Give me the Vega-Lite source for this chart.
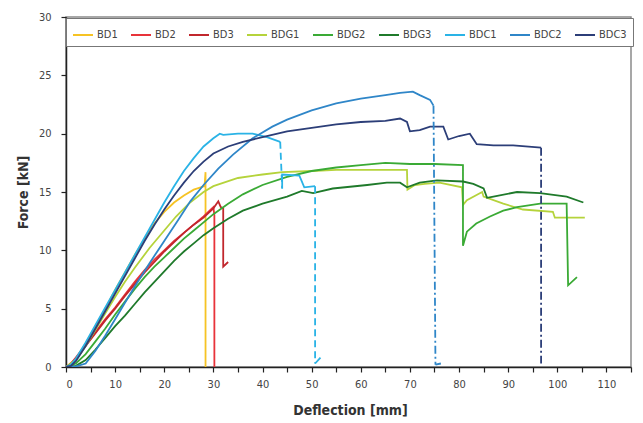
{
  "$schema": "https://vega.github.io/schema/vega-lite/v6.json",
  "width": 565,
  "height": 350,
  "autosize": {"type": "none"},
  "padding": {"left": 66, "top": 17, "right": 12, "bottom": 56},
  "background": "white",
  "config": {
    "view": {"stroke": "#8a8a8a", "strokeWidth": 1.5},
    "font": "DejaVu Sans Condensed",
    "axis": {"grid": false, "domainColor": "#222", "domainWidth": 1.5, "tickColor": "#222", "tickWidth": 1.2, "tickSize": 5, "labelFont": "DejaVu Sans Condensed", "labelFontSize": 11, "labelColor": "#444", "titleFont": "DejaVu Sans Condensed", "titleFontSize": 14, "titleFontWeight": "bold", "titleColor": "#333"}
  },
  "data": {"values": [
    {"s":"BD1","x":0,"y":0,"p":"a"},{"s":"BD1","x":2,"y":0.7,"p":"a"},{"s":"BD1","x":4,"y":2.0,"p":"a"},{"s":"BD1","x":6,"y":3.5,"p":"a"},{"s":"BD1","x":8,"y":5.0,"p":"a"},{"s":"BD1","x":10,"y":6.6,"p":"a"},{"s":"BD1","x":12,"y":8.1,"p":"a"},{"s":"BD1","x":14,"y":9.6,"p":"a"},{"s":"BD1","x":16,"y":11.0,"p":"a"},{"s":"BD1","x":18,"y":12.3,"p":"a"},{"s":"BD1","x":20,"y":13.3,"p":"a"},{"s":"BD1","x":22,"y":14.1,"p":"a"},{"s":"BD1","x":24,"y":14.7,"p":"a"},{"s":"BD1","x":26,"y":15.2,"p":"a"},{"s":"BD1","x":28.2,"y":15.5,"p":"a"},{"s":"BD1","x":28.4,"y":16.7,"p":"a"},{"s":"BD1","x":28.4,"y":0,"p":"a"},

    {"s":"BD2","x":0,"y":0,"p":"a"},{"s":"BD2","x":1,"y":0.3,"p":"a"},{"s":"BD2","x":2,"y":0.8,"p":"a"},{"s":"BD2","x":4,"y":1.9,"p":"a"},{"s":"BD2","x":6,"y":3.0,"p":"a"},{"s":"BD2","x":8,"y":4.1,"p":"a"},{"s":"BD2","x":10,"y":5.1,"p":"a"},{"s":"BD2","x":12,"y":6.2,"p":"a"},{"s":"BD2","x":14,"y":7.3,"p":"a"},{"s":"BD2","x":16,"y":8.3,"p":"a"},{"s":"BD2","x":18,"y":9.2,"p":"a"},{"s":"BD2","x":20,"y":10.0,"p":"a"},{"s":"BD2","x":22,"y":10.8,"p":"a"},{"s":"BD2","x":24,"y":11.5,"p":"a"},{"s":"BD2","x":26,"y":12.2,"p":"a"},{"s":"BD2","x":28,"y":12.9,"p":"a"},{"s":"BD2","x":29.5,"y":13.5,"p":"a"},{"s":"BD2","x":30,"y":13.7,"p":"a"},{"s":"BD2","x":30.2,"y":13.0,"p":"a"},{"s":"BD2","x":30.2,"y":0,"p":"a"},

    {"s":"BD3","x":0,"y":0,"p":"a"},{"s":"BD3","x":1,"y":0.2,"p":"a"},{"s":"BD3","x":2,"y":0.7,"p":"a"},{"s":"BD3","x":4,"y":1.8,"p":"a"},{"s":"BD3","x":6,"y":2.9,"p":"a"},{"s":"BD3","x":8,"y":4.0,"p":"a"},{"s":"BD3","x":10,"y":5.0,"p":"a"},{"s":"BD3","x":12,"y":6.1,"p":"a"},{"s":"BD3","x":14,"y":7.1,"p":"a"},{"s":"BD3","x":16,"y":8.1,"p":"a"},{"s":"BD3","x":18,"y":9.0,"p":"a"},{"s":"BD3","x":20,"y":9.9,"p":"a"},{"s":"BD3","x":22,"y":10.7,"p":"a"},{"s":"BD3","x":24,"y":11.5,"p":"a"},{"s":"BD3","x":26,"y":12.2,"p":"a"},{"s":"BD3","x":28,"y":12.8,"p":"a"},{"s":"BD3","x":30,"y":13.6,"p":"a"},{"s":"BD3","x":31,"y":14.2,"p":"a"},{"s":"BD3","x":31.5,"y":13.7,"p":"a"},{"s":"BD3","x":32,"y":13.6,"p":"a"},{"s":"BD3","x":32,"y":8.6,"p":"a"},{"s":"BD3","x":33,"y":9.0,"p":"a"},

    {"s":"BDG1","x":0,"y":0,"p":"a"},{"s":"BDG1","x":2,"y":0.6,"p":"a"},{"s":"BDG1","x":4,"y":1.8,"p":"a"},{"s":"BDG1","x":6,"y":3.2,"p":"a"},{"s":"BDG1","x":8,"y":4.6,"p":"a"},{"s":"BDG1","x":10,"y":6.0,"p":"a"},{"s":"BDG1","x":12,"y":7.3,"p":"a"},{"s":"BDG1","x":14,"y":8.5,"p":"a"},{"s":"BDG1","x":17,"y":10.2,"p":"a"},{"s":"BDG1","x":20,"y":11.7,"p":"a"},{"s":"BDG1","x":22.4,"y":12.9,"p":"a"},{"s":"BDG1","x":25,"y":14.0,"p":"a"},{"s":"BDG1","x":28,"y":15.0,"p":"a"},{"s":"BDG1","x":30,"y":15.5,"p":"a"},{"s":"BDG1","x":35,"y":16.2,"p":"a"},{"s":"BDG1","x":40,"y":16.5,"p":"a"},{"s":"BDG1","x":44,"y":16.7,"p":"a"},{"s":"BDG1","x":50,"y":16.8,"p":"a"},{"s":"BDG1","x":55,"y":16.9,"p":"a"},{"s":"BDG1","x":60,"y":16.9,"p":"a"},{"s":"BDG1","x":65,"y":16.9,"p":"a"},{"s":"BDG1","x":69.4,"y":16.9,"p":"a"},{"s":"BDG1","x":69.5,"y":15.2,"p":"a"},{"s":"BDG1","x":71,"y":15.6,"p":"a"},{"s":"BDG1","x":73,"y":15.7,"p":"a"},{"s":"BDG1","x":76,"y":15.8,"p":"a"},{"s":"BDG1","x":80.6,"y":15.4,"p":"a"},{"s":"BDG1","x":80.8,"y":13.9,"p":"a"},{"s":"BDG1","x":81.6,"y":14.3,"p":"a"},{"s":"BDG1","x":84.7,"y":15.0,"p":"a"},{"s":"BDG1","x":85,"y":14.6,"p":"a"},{"s":"BDG1","x":89,"y":14.0,"p":"a"},{"s":"BDG1","x":93,"y":13.5,"p":"a"},{"s":"BDG1","x":99.1,"y":13.3,"p":"a"},{"s":"BDG1","x":99.5,"y":12.8,"p":"a"},{"s":"BDG1","x":105.6,"y":12.8,"p":"a"},

    {"s":"BDG2","x":0,"y":0,"p":"a"},{"s":"BDG2","x":2,"y":0.3,"p":"a"},{"s":"BDG2","x":4,"y":1.1,"p":"a"},{"s":"BDG2","x":6,"y":2.2,"p":"a"},{"s":"BDG2","x":8,"y":3.3,"p":"a"},{"s":"BDG2","x":10,"y":4.5,"p":"a"},{"s":"BDG2","x":12,"y":5.6,"p":"a"},{"s":"BDG2","x":14,"y":6.7,"p":"a"},{"s":"BDG2","x":16,"y":7.7,"p":"a"},{"s":"BDG2","x":18,"y":8.6,"p":"a"},{"s":"BDG2","x":20,"y":9.4,"p":"a"},{"s":"BDG2","x":22,"y":10.2,"p":"a"},{"s":"BDG2","x":24,"y":11.0,"p":"a"},{"s":"BDG2","x":26,"y":11.7,"p":"a"},{"s":"BDG2","x":28,"y":12.4,"p":"a"},{"s":"BDG2","x":30,"y":13.1,"p":"a"},{"s":"BDG2","x":33,"y":14.0,"p":"a"},{"s":"BDG2","x":36,"y":14.8,"p":"a"},{"s":"BDG2","x":40,"y":15.6,"p":"a"},{"s":"BDG2","x":45,"y":16.3,"p":"a"},{"s":"BDG2","x":50,"y":16.8,"p":"a"},{"s":"BDG2","x":55,"y":17.1,"p":"a"},{"s":"BDG2","x":60,"y":17.3,"p":"a"},{"s":"BDG2","x":65,"y":17.5,"p":"a"},{"s":"BDG2","x":70,"y":17.4,"p":"a"},{"s":"BDG2","x":75,"y":17.4,"p":"a"},{"s":"BDG2","x":80.8,"y":17.3,"p":"a"},{"s":"BDG2","x":80.8,"y":10.4,"p":"a"},{"s":"BDG2","x":81.6,"y":11.6,"p":"a"},{"s":"BDG2","x":83.5,"y":12.3,"p":"a"},{"s":"BDG2","x":86.3,"y":12.9,"p":"a"},{"s":"BDG2","x":89,"y":13.4,"p":"a"},{"s":"BDG2","x":91.8,"y":13.7,"p":"a"},{"s":"BDG2","x":96.5,"y":14.0,"p":"a"},{"s":"BDG2","x":101.9,"y":14.0,"p":"a"},{"s":"BDG2","x":102.2,"y":7.0,"p":"a"},{"s":"BDG2","x":104,"y":7.7,"p":"a"},

    {"s":"BDG3","x":0,"y":0,"p":"a"},{"s":"BDG3","x":2,"y":0.1,"p":"a"},{"s":"BDG3","x":4,"y":0.6,"p":"a"},{"s":"BDG3","x":6,"y":1.5,"p":"a"},{"s":"BDG3","x":8,"y":2.5,"p":"a"},{"s":"BDG3","x":10,"y":3.5,"p":"a"},{"s":"BDG3","x":12,"y":4.4,"p":"a"},{"s":"BDG3","x":14,"y":5.4,"p":"a"},{"s":"BDG3","x":16,"y":6.4,"p":"a"},{"s":"BDG3","x":18,"y":7.3,"p":"a"},{"s":"BDG3","x":20,"y":8.2,"p":"a"},{"s":"BDG3","x":22,"y":9.1,"p":"a"},{"s":"BDG3","x":24,"y":9.9,"p":"a"},{"s":"BDG3","x":26,"y":10.6,"p":"a"},{"s":"BDG3","x":28,"y":11.3,"p":"a"},{"s":"BDG3","x":30,"y":11.9,"p":"a"},{"s":"BDG3","x":33,"y":12.7,"p":"a"},{"s":"BDG3","x":36,"y":13.4,"p":"a"},{"s":"BDG3","x":40,"y":14.0,"p":"a"},{"s":"BDG3","x":45,"y":14.6,"p":"a"},{"s":"BDG3","x":48,"y":15.1,"p":"a"},{"s":"BDG3","x":50.3,"y":14.9,"p":"a"},{"s":"BDG3","x":54.3,"y":15.3,"p":"a"},{"s":"BDG3","x":61.3,"y":15.6,"p":"a"},{"s":"BDG3","x":65.3,"y":15.8,"p":"a"},{"s":"BDG3","x":68,"y":15.8,"p":"a"},{"s":"BDG3","x":69.4,"y":15.4,"p":"a"},{"s":"BDG3","x":72,"y":15.8,"p":"a"},{"s":"BDG3","x":75.5,"y":16.0,"p":"a"},{"s":"BDG3","x":80.8,"y":15.9,"p":"a"},{"s":"BDG3","x":82.9,"y":15.7,"p":"a"},{"s":"BDG3","x":85,"y":15.3,"p":"a"},{"s":"BDG3","x":85.7,"y":14.5,"p":"a"},{"s":"BDG3","x":87,"y":14.6,"p":"a"},{"s":"BDG3","x":91.8,"y":15.0,"p":"a"},{"s":"BDG3","x":96.5,"y":14.9,"p":"a"},{"s":"BDG3","x":101.9,"y":14.6,"p":"a"},{"s":"BDG3","x":105.3,"y":14.1,"p":"a"},

    {"s":"BDC1","x":0,"y":0,"p":"a"},{"s":"BDC1","x":1,"y":0.2,"p":"a"},{"s":"BDC1","x":2,"y":0.7,"p":"a"},{"s":"BDC1","x":4,"y":2.1,"p":"a"},{"s":"BDC1","x":6,"y":3.6,"p":"a"},{"s":"BDC1","x":8,"y":5.1,"p":"a"},{"s":"BDC1","x":10,"y":6.6,"p":"a"},{"s":"BDC1","x":12,"y":8.1,"p":"a"},{"s":"BDC1","x":14,"y":9.6,"p":"a"},{"s":"BDC1","x":16,"y":11.1,"p":"a"},{"s":"BDC1","x":18,"y":12.6,"p":"a"},{"s":"BDC1","x":20,"y":14.1,"p":"a"},{"s":"BDC1","x":22,"y":15.5,"p":"a"},{"s":"BDC1","x":24,"y":16.8,"p":"a"},{"s":"BDC1","x":26,"y":17.9,"p":"a"},{"s":"BDC1","x":28,"y":18.9,"p":"a"},{"s":"BDC1","x":30,"y":19.6,"p":"a"},{"s":"BDC1","x":31.3,"y":20.0,"p":"a"},{"s":"BDC1","x":32,"y":19.9,"p":"a"},{"s":"BDC1","x":35,"y":20.0,"p":"a"},{"s":"BDC1","x":38,"y":20.0,"p":"a"},{"s":"BDC1","x":40.9,"y":19.7,"p":"a"},{"s":"BDC1","x":43.6,"y":19.3,"p":"a"},
    {"s":"BDC1","x":43.6,"y":19.3,"p":"d1"},{"s":"BDC1","x":44,"y":15.3,"p":"d1"},
    {"s":"BDC1","x":44,"y":15.3,"p":"b"},{"s":"BDC1","x":44,"y":16.5,"p":"b"},{"s":"BDC1","x":47.5,"y":16.4,"p":"b"},{"s":"BDC1","x":48.5,"y":15.4,"p":"b"},{"s":"BDC1","x":50.7,"y":15.5,"p":"b"},
    {"s":"BDC1","x":50.7,"y":15.5,"p":"d2"},{"s":"BDC1","x":50.7,"y":0.3,"p":"d2"},
    {"s":"BDC1","x":50.7,"y":0.3,"p":"c"},{"s":"BDC1","x":51.8,"y":0.8,"p":"c"},

    {"s":"BDC2","x":0,"y":0,"p":"a"},{"s":"BDC2","x":2,"y":0.05,"p":"a"},{"s":"BDC2","x":4,"y":0.3,"p":"a"},{"s":"BDC2","x":6,"y":1.4,"p":"a"},{"s":"BDC2","x":8,"y":2.7,"p":"a"},{"s":"BDC2","x":10,"y":4.1,"p":"a"},{"s":"BDC2","x":12,"y":5.5,"p":"a"},{"s":"BDC2","x":14,"y":6.9,"p":"a"},{"s":"BDC2","x":17,"y":8.9,"p":"a"},{"s":"BDC2","x":20,"y":10.8,"p":"a"},{"s":"BDC2","x":23,"y":12.7,"p":"a"},{"s":"BDC2","x":25.3,"y":14.2,"p":"a"},{"s":"BDC2","x":28,"y":15.6,"p":"a"},{"s":"BDC2","x":31,"y":17.0,"p":"a"},{"s":"BDC2","x":34,"y":18.2,"p":"a"},{"s":"BDC2","x":38,"y":19.6,"p":"a"},{"s":"BDC2","x":42,"y":20.6,"p":"a"},{"s":"BDC2","x":45,"y":21.2,"p":"a"},{"s":"BDC2","x":50,"y":22.0,"p":"a"},{"s":"BDC2","x":55,"y":22.6,"p":"a"},{"s":"BDC2","x":60,"y":23.0,"p":"a"},{"s":"BDC2","x":65,"y":23.3,"p":"a"},{"s":"BDC2","x":68,"y":23.5,"p":"a"},{"s":"BDC2","x":70.6,"y":23.6,"p":"a"},{"s":"BDC2","x":72,"y":23.3,"p":"a"},{"s":"BDC2","x":74.1,"y":22.9,"p":"a"},{"s":"BDC2","x":74.8,"y":22.4,"p":"a"},
    {"s":"BDC2","x":74.8,"y":22.4,"p":"d1"},{"s":"BDC2","x":75.2,"y":0.2,"p":"d1"},
    {"s":"BDC2","x":75.2,"y":0.2,"p":"c"},{"s":"BDC2","x":76.3,"y":0.3,"p":"c"},

    {"s":"BDC3","x":0,"y":0,"p":"a"},{"s":"BDC3","x":1,"y":0.1,"p":"a"},{"s":"BDC3","x":2,"y":0.5,"p":"a"},{"s":"BDC3","x":4,"y":1.8,"p":"a"},{"s":"BDC3","x":6,"y":3.3,"p":"a"},{"s":"BDC3","x":8,"y":4.8,"p":"a"},{"s":"BDC3","x":10,"y":6.3,"p":"a"},{"s":"BDC3","x":12,"y":7.8,"p":"a"},{"s":"BDC3","x":14,"y":9.3,"p":"a"},{"s":"BDC3","x":16,"y":10.8,"p":"a"},{"s":"BDC3","x":18,"y":12.2,"p":"a"},{"s":"BDC3","x":20,"y":13.5,"p":"a"},{"s":"BDC3","x":22,"y":14.7,"p":"a"},{"s":"BDC3","x":24,"y":15.8,"p":"a"},{"s":"BDC3","x":26,"y":16.8,"p":"a"},{"s":"BDC3","x":28,"y":17.6,"p":"a"},{"s":"BDC3","x":30,"y":18.3,"p":"a"},{"s":"BDC3","x":33,"y":18.9,"p":"a"},{"s":"BDC3","x":36,"y":19.3,"p":"a"},{"s":"BDC3","x":40,"y":19.7,"p":"a"},{"s":"BDC3","x":45,"y":20.2,"p":"a"},{"s":"BDC3","x":50,"y":20.5,"p":"a"},{"s":"BDC3","x":55,"y":20.8,"p":"a"},{"s":"BDC3","x":60,"y":21.0,"p":"a"},{"s":"BDC3","x":65,"y":21.1,"p":"a"},{"s":"BDC3","x":68,"y":21.3,"p":"a"},{"s":"BDC3","x":69.4,"y":21.0,"p":"a"},{"s":"BDC3","x":70,"y":20.2,"p":"a"},{"s":"BDC3","x":72,"y":20.3,"p":"a"},{"s":"BDC3","x":74.1,"y":20.6,"p":"a"},{"s":"BDC3","x":76.8,"y":20.6,"p":"a"},{"s":"BDC3","x":77.8,"y":19.5,"p":"a"},{"s":"BDC3","x":80,"y":19.8,"p":"a"},{"s":"BDC3","x":82.2,"y":20.0,"p":"a"},{"s":"BDC3","x":83.6,"y":19.1,"p":"a"},{"s":"BDC3","x":87,"y":19.0,"p":"a"},{"s":"BDC3","x":91,"y":19.0,"p":"a"},{"s":"BDC3","x":96.7,"y":18.8,"p":"a"},
    {"s":"BDC3","x":96.7,"y":18.8,"p":"d1"},{"s":"BDC3","x":96.7,"y":0.3,"p":"d1"}
  ]},
  "encoding": {
    "x": {"field": "x", "type": "quantitative", "scale": {"domain": [0, 115], "nice": false}, "axis": {"values": [0,5,10,15,20,25,30,35,40,45,50,55,60,65,70,75,80,85,90,95,100,105,110,115], "title": "Deflection [mm]", "labelPadding": 6, "titleX": 284, "titleY": 43, "titleBaseline": "middle"}},
    "y": {"field": "y", "type": "quantitative", "scale": {"domain": [0, 30], "nice": false}, "axis": {"values": [0,5,10,15,20,25,30], "title": "Force [kN]", "labelPadding": 10, "titleX": -43, "titleY": 175, "titleBaseline": "middle", "titleAngle": -90}},
    "color": {"field": "s", "type": "nominal", "scale": {"domain": ["BD1","BD2","BD3","BDG1","BDG2","BDG3","BDC1","BDC2","BDC3"], "range": ["#f6c324","#e8333a","#c1272d","#b5d33b","#3aaa35","#1f7a2b","#2ab3e6","#2f86c8","#2c3e78"]}, "legend": {"title": null, "orient": "none", "legendX": 0, "legendY": 1, "direction": "horizontal", "symbolType": "stroke", "symbolSize": 400, "symbolStrokeWidth": 2, "labelFont": "DejaVu Sans Condensed", "labelFontSize": 11, "labelColor": "#444", "labelOffset": 3, "columnPadding": 9, "padding": 6, "strokeColor": "#777", "fillColor": "white", "cornerRadius": 0}},
    "order": {"value": null}
  },
  "layer": [
    {"transform": [{"filter": "!test(/^d/, datum.p)"}], "mark": {"type": "line", "strokeWidth": 1.8, "clip": true}, "encoding": {"detail": {"field": "p"}}},
    {"transform": [{"filter": "test(/^d/, datum.p)"}], "mark": {"type": "line", "strokeWidth": 1.8, "clip": true}, "encoding": {"detail": {"field": "p"}, "strokeDash": {"field": "s", "type": "nominal", "scale": {"domain": ["BDC1","BDC2","BDC3"], "range": [[7,4],[8,3,2,3],[8,3,2,3]]}, "legend": null}}}
  ]
}
